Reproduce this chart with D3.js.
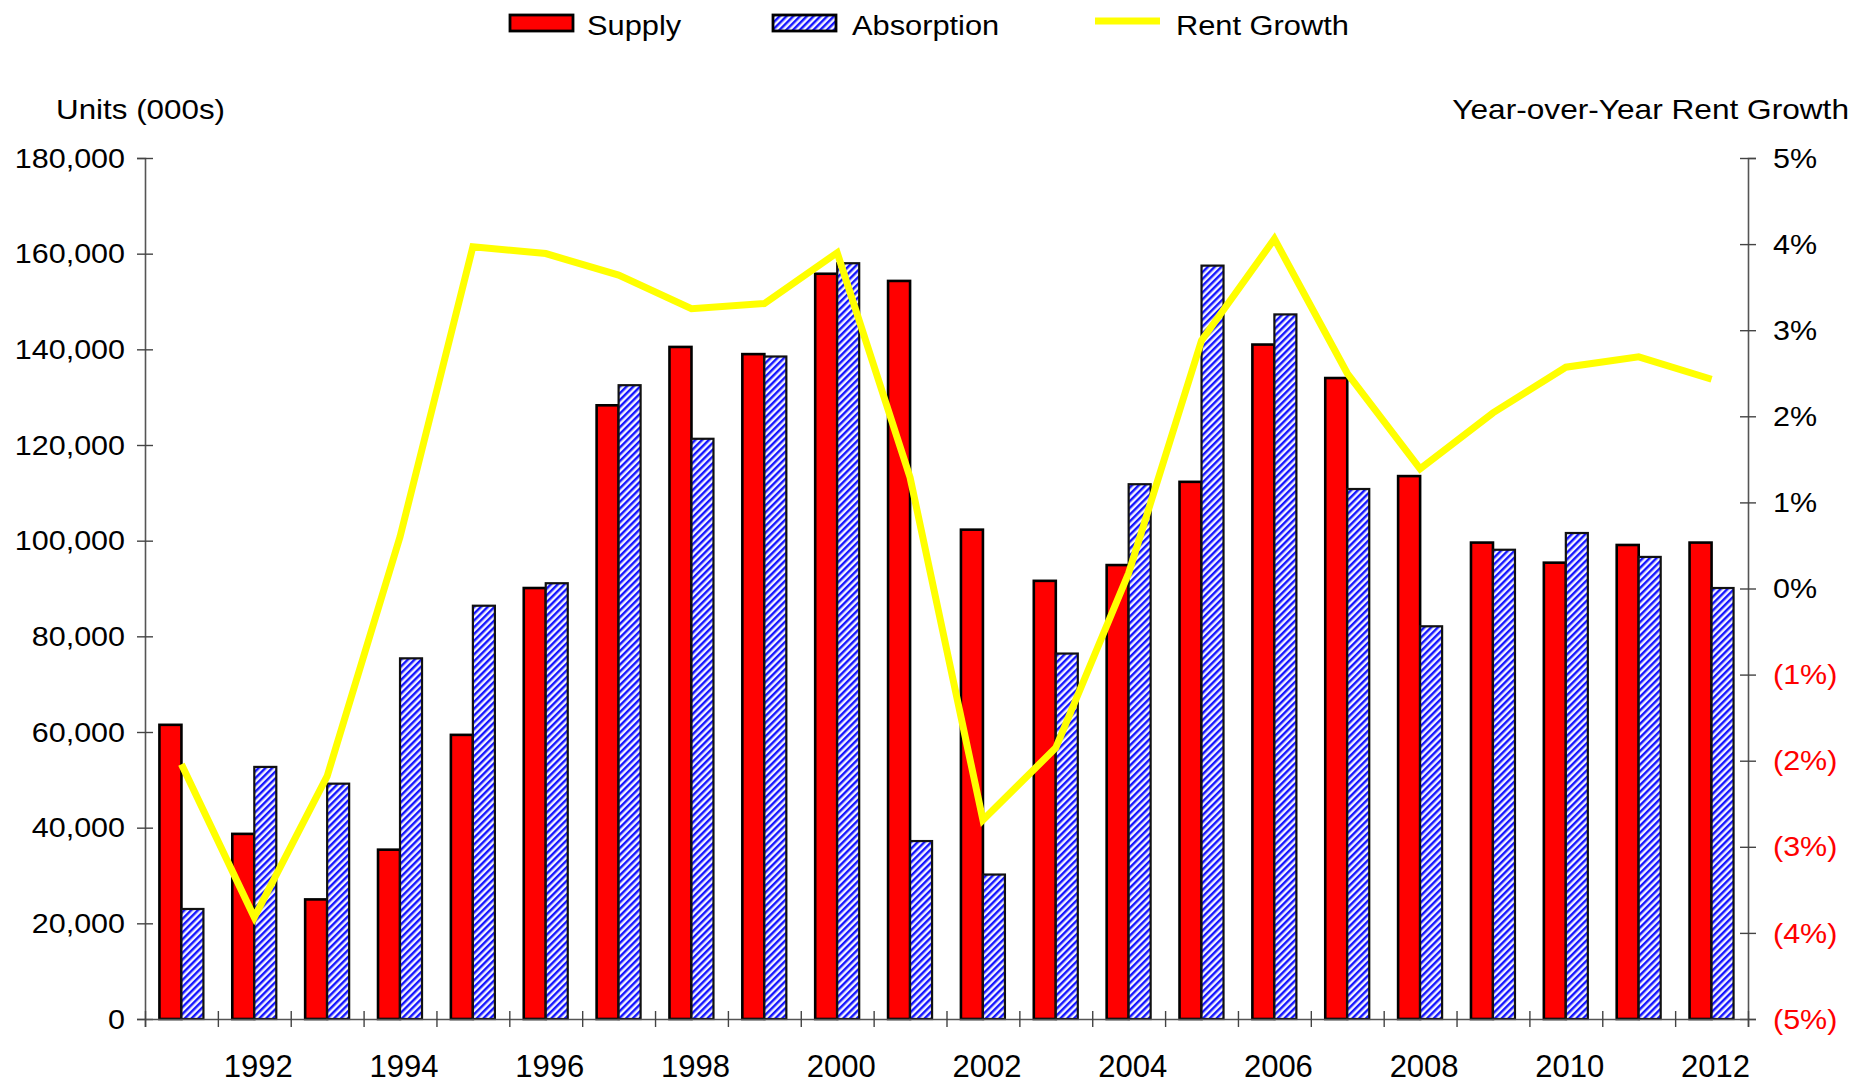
<!DOCTYPE html>
<html><head><meta charset="utf-8">
<script src="https://cdn.jsdelivr.net/npm/d3@7"></script>
<style>body{margin:0;background:#fff;overflow:hidden} text{font-family:"Liberation Sans",Arial,sans-serif}</style>
</head><body><svg id="c" width="1871" height="1083"></svg>
<script>
const years = ["1991","1992","1993","1994","1995","1996","1997","1998","1999","2000","2001","2002","2003","2004","2005","2006","2007","2008","2009","2010","2011","2012"];
const supply = [61500,38700,25000,35400,59400,90100,128300,140500,139000,155800,154300,102300,91600,94900,112300,141000,134000,113500,99600,95400,99100,99600];
const absorption = [23000,52700,49200,75400,86400,91100,132500,121300,138500,158000,37200,30200,76400,111800,157500,147300,110800,82100,98100,101600,96600,90100];
const rentGrowth = [-2.04,-3.82,-2.18,0.6,3.97,3.89,3.64,3.25,3.31,3.90,1.29,-2.69,-1.85,0.18,2.88,4.06,2.50,1.39,2.04,2.57,2.69,2.43];
const leftTicks = [0,20000,40000,60000,80000,100000,120000,140000,160000,180000];
const rightTicks = [-5,-4,-3,-2,-1,0,1,2,3,4,5];
const labelYears = ["1992","1994","1996","1998","2000","2002","2004","2006","2008","2010","2012"];
const seriesNames = ["Supply","Absorption","Rent Growth"];

const svg = d3.select('#c');
const X0=145, X1=1748, Y0=158, Y1=1019;
const x = d3.scaleBand().domain(years).range([X0,X1]).padding(0);
const xi = d3.scaleLinear().domain([0,years.length]).range([X0,X1]);
const yL = d3.scaleLinear().domain([0,180000]).range([Y1,Y0]);
const yR = d3.scaleLinear().domain([-5,5]).range([Y1,Y0]);
const bw = x.bandwidth();
const groupW = 44;
const xs = d3.scaleBand().domain(["s","a"]).range([0,groupW]);

function stretch(sel, sx){
  sel.each(function(){
    const t=d3.select(this);
    const tx=+t.attr('x')||0, ty=+t.attr('y')||0;
    t.attr('x',null).attr('y',null).attr('transform',`translate(${tx},${ty}) scale(${sx},1)`);
  });
}

const defs = svg.append('defs');
const pat = defs.append('pattern').attr('id','hatch').attr('patternUnits','userSpaceOnUse')
  .attr('width',4.8).attr('height',4.8).attr('patternTransform','rotate(45)');
pat.append('rect').attr('width',4.8).attr('height',4.8).attr('fill','#f4f4ff');
pat.append('rect').attr('width',2.4).attr('height',4.8).attr('fill','#1414ff');

// bars
const gb = svg.append('g');
gb.selectAll('rect.s').data(years).join('rect').attr('class','s')
  .attr('x',d=>x(d)+(bw-groupW)/2+xs('s'))
  .attr('y',(d,i)=>yL(supply[i]))
  .attr('width',xs.bandwidth())
  .attr('height',(d,i)=>yL(0)-yL(supply[i]))
  .attr('fill','#ff0000').attr('stroke','#000').attr('stroke-width',2.6);
gb.selectAll('rect.a').data(years).join('rect').attr('class','a')
  .attr('x',d=>x(d)+(bw-groupW)/2+xs('a'))
  .attr('y',(d,i)=>yL(absorption[i]))
  .attr('width',xs.bandwidth())
  .attr('height',(d,i)=>yL(0)-yL(absorption[i]))
  .attr('fill','url(#hatch)').attr('stroke','#111').attr('stroke-width',2.2);

// left axis
const gl = svg.append('g').attr('transform',`translate(${X0},0)`)
  .call(d3.axisLeft(yL).tickValues(leftTicks).tickFormat(d3.format(',')).tickSizeOuter(0).tickSize(8));
gl.select('.domain').attr('stroke','#555').attr('stroke-width',1.6);
gl.selectAll('.tick line').attr('x1',-8).attr('x2',8).attr('stroke','#444').attr('stroke-width',1.4);
gl.selectAll('.tick text').attr('x',-20).attr('font-size',28.5).attr('fill','#000');
stretch(gl.selectAll('.tick text'),1.07);

// right axis
const fmtR = d => d<0 ? `(${-d}%)` : `${d}%`;
const gr = svg.append('g').attr('transform',`translate(${X1},0)`)
  .call(d3.axisRight(yR).tickValues(rightTicks).tickFormat(fmtR).tickSizeOuter(0).tickSize(8));
gr.select('.domain').attr('stroke','#555').attr('stroke-width',1.6);
gr.selectAll('.tick line').attr('x1',-8).attr('x2',8).attr('stroke','#444').attr('stroke-width',1.4);
gr.selectAll('.tick text').attr('x',25).attr('font-size',28.5).attr('fill',d=>d<0?'#ff0000':'#000');
stretch(gr.selectAll('.tick text'),1.07);

// bottom axis (category boundaries)
const gx = svg.append('g').attr('transform',`translate(0,${Y1})`)
  .call(d3.axisBottom(xi).tickValues(d3.range(0,years.length+1)).tickFormat('').tickSizeOuter(0).tickSize(8));
gx.select('.domain').attr('stroke','#555').attr('stroke-width',1.6);
gx.selectAll('.tick line').attr('y1',-8).attr('y2',8).attr('stroke','#444').attr('stroke-width',1.4);

const gy = svg.append('g').attr('transform',`translate(4,${Y1})`)
  .call(d3.axisBottom(x).tickValues(labelYears).tickSize(0));
gy.select('.domain').remove();
gy.selectAll('.tick text').attr('y',58).attr('dy',0).attr('font-size',31).attr('fill','#000');

// rent growth line
const line = d3.line().x((d,i)=>x(years[i])+bw/2).y(d=>yR(d));
svg.append('path').datum(rentGrowth).attr('d',line)
  .attr('fill','none').attr('stroke','#ffff00').attr('stroke-width',7).attr('stroke-linejoin','miter');

// titles
const t1 = svg.append('text').attr('x',56).attr('y',119).attr('font-size',28).text('Units (000s)');
stretch(t1,1.12);
const t2 = svg.append('text').attr('x',1849).attr('y',119).attr('font-size',28).attr('text-anchor','end').text('Year-over-Year Rent Growth');
stretch(t2,1.13);

// legend
const lg = svg.append('g');
lg.append('rect').attr('x',510).attr('y',15).attr('width',63).attr('height',16).attr('fill','#ff0000').attr('stroke','#000').attr('stroke-width',2.8);
lg.append('rect').attr('x',773).attr('y',15).attr('width',63).attr('height',16).attr('fill','url(#hatch)').attr('stroke','#000').attr('stroke-width',2.8);
lg.append('line').attr('x1',1095).attr('x2',1160).attr('y1',21).attr('y2',21).attr('stroke','#ffff00').attr('stroke-width',7);
const lt = lg.selectAll('text.lt').data(seriesNames).join('text').attr('class','lt')
  .attr('x',(d,i)=>[587,852,1176][i]).attr('y',35).attr('font-size',28).text(d=>d);
stretch(lt,1.1);
</script></body></html>
